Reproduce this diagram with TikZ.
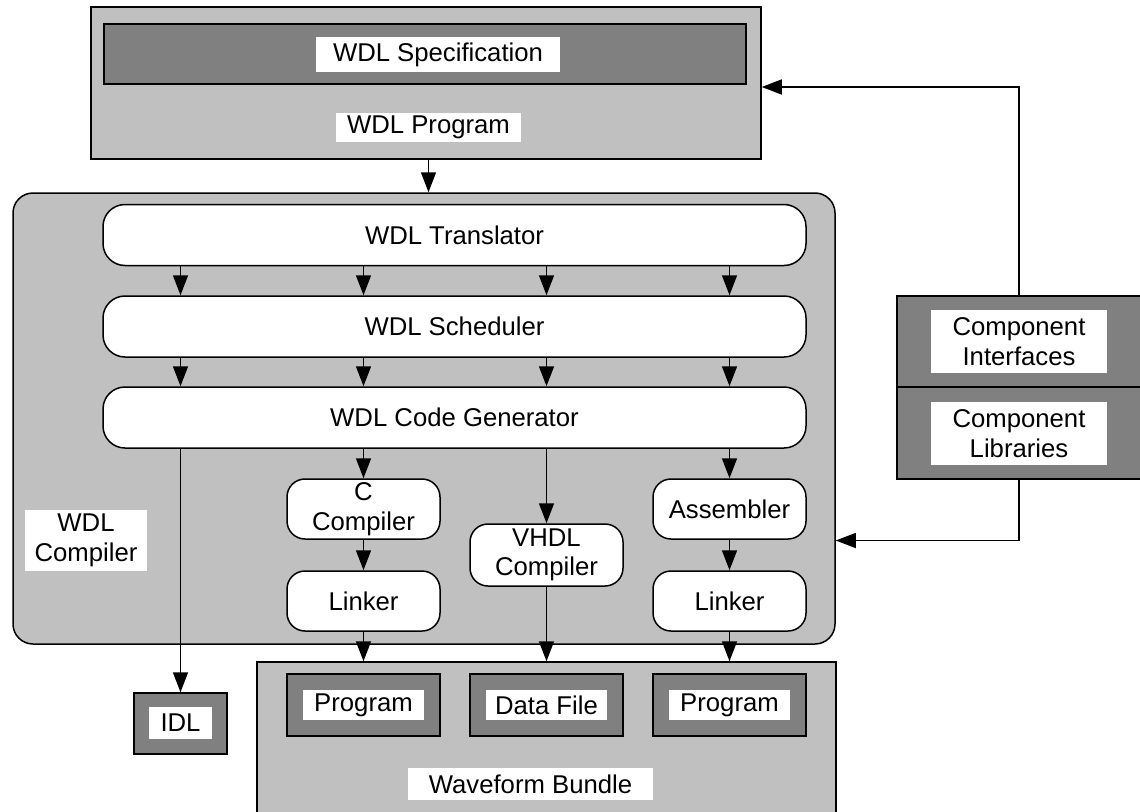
\documentclass[tikz,border=0pt]{standalone}
\usepackage{fontspec}
\setmainfont{Liberation Sans}
\usetikzlibrary{arrows.meta}
\definecolor{hgrau}{HTML}{C0C0C0}
\definecolor{dgrau}{HTML}{808080}
\tikzset{
  pfeil/.style={-{Triangle[length=20pt,width=15pt]},line width=1.5pt},
  stufe/.style={draw,line width=1.5pt,fill=white,rounded corners=22pt,inner sep=0pt,
    minimum width=703pt,minimum height=61pt},
  werkz/.style={draw,line width=1.5pt,fill=white,rounded corners=18pt,inner sep=0pt,
    minimum width=153pt,minimum height=60pt,align=center},
  rahmen/.style={draw,line width=1.5pt,fill=hgrau,inner sep=0pt},
  datei/.style={draw,line width=1.5pt,fill=dgrau,inner sep=0pt},
  schild/.style={fill=white,inner sep=0pt,align=center},
}

\begin{document}
\begin{tikzpicture}[x=1pt,y=-1pt,font=\fontsize{25.7}{29.5}\selectfont]
  \useasboundingbox (0,0) rectangle (1140,811);
  \clip (0,0) rectangle (1140,811);

  % WDL program
  \node[rahmen,minimum width=670pt,minimum height=152pt] (oben) at (426,83) {};
  \node[datei,minimum width=642pt,minimum height=60pt] (spec) at (425,54) {};
  \node[schild,minimum width=244pt,minimum height=35pt] (speclbl) at (438,54.5) {WDL Specification};
  \node[schild,minimum width=185pt,minimum height=29pt] (proglbl) at (428.5,127.5) {WDL Program};

  % compiler
  \node[rahmen,rounded corners=20pt,minimum width=822pt,minimum height=451pt] (comp) at (424,418.5) {};
  \node[schild,minimum width=122pt,minimum height=61pt] (complbl) at (86,540.5) {WDL\\Compiler};
  \node[stufe] (trans) at (454.5,235) {WDL Translator};
  \node[stufe] (sched) at (454.5,326.5) {WDL Scheduler};
  \node[stufe] (codegen) at (454.5,417.5) {WDL Code Generator};
  \node[werkz] (ccomp) at (363.5,509) {C\\Compiler};
  \node[werkz] (link1) at (363.5,601) {Linker};
  \node[werkz,minimum height=62pt] (vhdl) at (546.5,555) {VHDL\\Compiler};
  \node[werkz] (asm) at (729.5,509) {Assembler};
  \node[werkz] (link2) at (729.5,601) {Linker};

  % outputs
  \node[datei,minimum width=93pt,minimum height=61pt] (idl) at (180.5,723.5) {};
  \node[schild,minimum width=63pt,minimum height=32pt] (idllbl) at (180.5,723) {IDL};
  \node[rahmen,minimum width=579pt,minimum height=168pt] (bundle) at (546.5,746) {};
  \node[datei,minimum width=153pt,minimum height=62pt] (prog1) at (363.5,705) {};
  \node[datei,minimum width=153pt,minimum height=62pt] (daten) at (546.5,705) {};
  \node[datei,minimum width=153pt,minimum height=62pt] (prog2) at (729.5,705) {};
  \node[schild,minimum width=121pt,minimum height=30pt] at (prog1) {Program};
  \node[schild,minimum width=121pt,minimum height=30pt] at (daten) {Data File};
  \node[schild,minimum width=121pt,minimum height=30pt] at (prog2) {Program};
  \node[schild,minimum width=245pt,minimum height=32pt] (bundlelbl) at (530.5,784) {Waveform Bundle};

  % components
  \node[datei,minimum width=253pt,minimum height=91pt] (ci) at (1023.5,341.5) {};
  \node[datei,minimum width=253pt,minimum height=92pt] (cl) at (1023.5,433) {};
  \node[schild,minimum width=176pt,minimum height=63pt] (cilbl) at (1019,341.5) {Component\\Interfaces};
  \node[schild,minimum width=176pt,minimum height=63pt] (cllbl) at (1019,433.5) {Component\\Libraries};

  % connectors
  \draw[pfeil] (proglbl |- oben.south) -- (proglbl |- comp.north);
  \foreach \k in {idl,ccomp,vhdl,asm} {
    \draw[pfeil] (trans.south -| \k) -- (sched.north -| \k);
    \draw[pfeil] (sched.south -| \k) -- (codegen.north -| \k);
  }
  \draw[pfeil] (codegen.south -| idl) -- (idl.north);
  \draw[pfeil] (codegen.south -| ccomp) -- (ccomp.north);
  \draw[pfeil] (ccomp.south) -- (link1.north);
  \draw[pfeil] (link1.south) -- (link1.south |- bundle.north);
  \draw[pfeil] (codegen.south -| vhdl) -- (vhdl.north);
  \draw[pfeil] (vhdl.south) -- (vhdl.south |- bundle.north);
  \draw[pfeil] (codegen.south -| asm) -- (asm.north);
  \draw[pfeil] (asm.south) -- (link2.north);
  \draw[pfeil] (link2.south) -- (link2.south |- bundle.north);
  \draw[pfeil] (ci.north -| cilbl) |- ([yshift=-4pt]oben.east);
  \draw[pfeil] (cl.south -| cilbl) |- (comp.east |- complbl);
\end{tikzpicture}
\end{document}
